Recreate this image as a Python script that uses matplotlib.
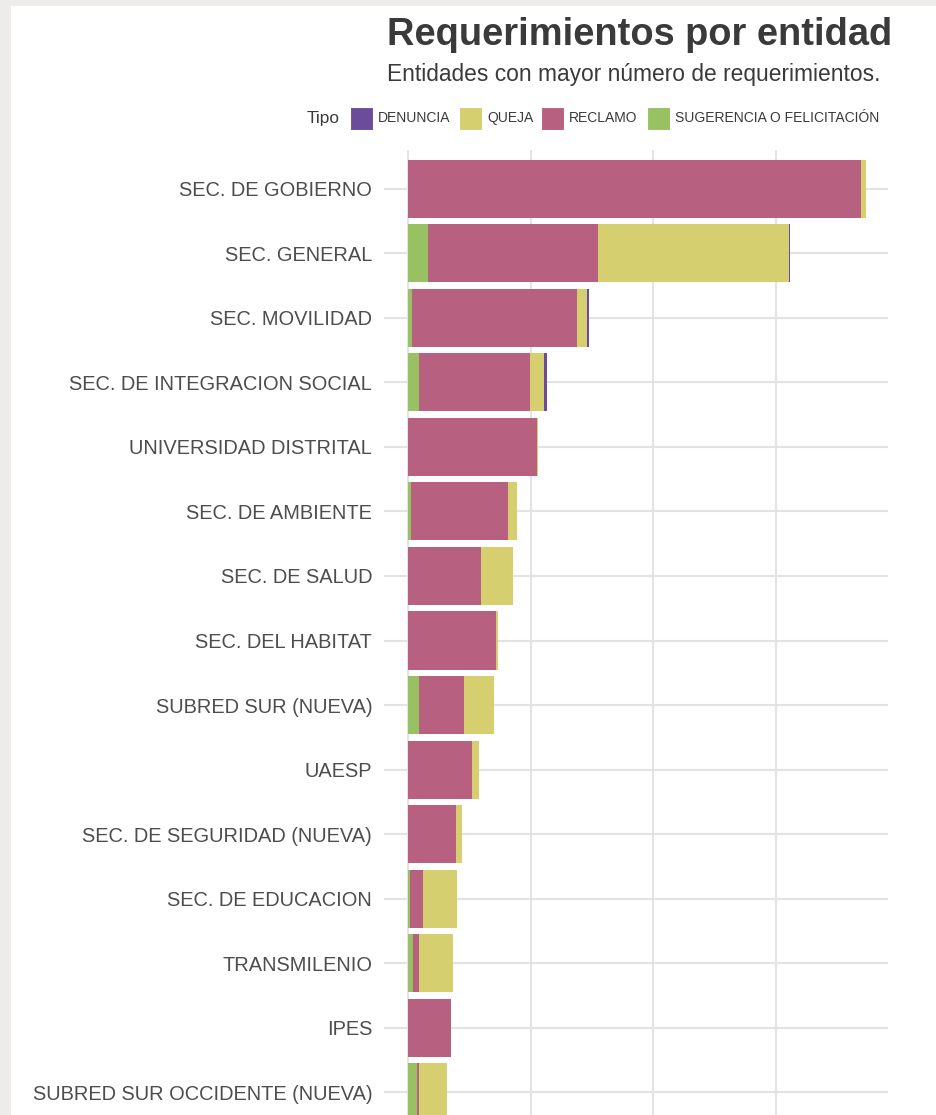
import matplotlib
matplotlib.use("Agg")
import matplotlib.pyplot as plt
from matplotlib.patches import Rectangle
import numpy as np

plt.rcParams['font.family'] = ['Liberation Sans', 'DejaVu Sans']

entidades = ["SEC. DE GOBIERNO", "SEC. GENERAL", "SEC. MOVILIDAD",
             "SEC. DE INTEGRACION SOCIAL", "UNIVERSIDAD DISTRITAL",
             "SEC. DE AMBIENTE", "SEC. DE SALUD", "SEC. DEL HABITAT",
             "SUBRED SUR (NUEVA)", "UAESP", "SEC. DE SEGURIDAD (NUEVA)",
             "SEC. DE EDUCACION", "TRANSMILENIO", "IPES",
             "SUBRED SUR OCCIDENTE (NUEVA)"]
sugerencia = [0, 160, 33, 90, 0, 22, 0, 0, 90, 0, 0, 19, 38, 0, 71]
reclamo = [3692, 1392, 1345, 905, 1049, 796, 592, 717, 364, 524, 389, 106, 54, 350, 19]
queja = [37, 1549, 81, 117, 13, 68, 261, 16, 245, 52, 49, 277, 275, 0, 226]
denuncia = [0, 15, 16, 19, 0, 0, 0, 0, 0, 0, 0, 0, 0, 0, 0]

tipos = ["DENUNCIA", "QUEJA", "RECLAMO", "SUGERENCIA O FELICITACIÓN"]
colores = {"DENUNCIA": "#6b4c9a", "QUEJA": "#d5cf70",
           "RECLAMO": "#b86080", "SUGERENCIA O FELICITACIÓN": "#98c164"}

W, H = 936, 1115
fig = plt.figure(figsize=(W / 100, H / 100), dpi=100)
fig.patch.set_facecolor("#eeecea")
fig.add_artist(Rectangle((11 / W, 0), 1, 1 - 6 / H, transform=fig.transFigure,
                         facecolor="white", edgecolor="none", zorder=0))

left, right = 384 / W, 888 / W
top_px, bot_px = 150, 1131
ax = fig.add_axes([left, 1 - bot_px / H, right - left, (bot_px - top_px) / H])
ax.set_facecolor("none")

y = np.arange(len(entidades))
stack_order = [("SUGERENCIA O FELICITACIÓN", sugerencia), ("RECLAMO", reclamo),
               ("QUEJA", queja), ("DENUNCIA", denuncia)]
base = np.zeros(len(entidades))
for name, vals in stack_order:
    v = np.array(vals, dtype=float)
    ax.barh(y, v, left=base, height=0.9, color=colores[name], edgecolor="none",
            zorder=3)
    base += v

ax.set_ylim(len(entidades) - 0.4, -0.6)
ax.set_xlim(-196, 3912)
ax.set_xticks([0, 1000, 2000, 3000])
ax.set_xticklabels([])
ax.set_yticks(y)
ax.set_yticklabels(entidades, fontsize=14.4, color="#4d4d4d")
ax.tick_params(axis="both", length=0, pad=8.5)
for s in ax.spines.values():
    s.set_visible(False)
ax.grid(True, color="#e3e3e3", linewidth=1.5, zorder=0)
ax.set_axisbelow(True)

fig.text(387 / W, 1 - 45 / H, "Requerimientos por entidad", fontsize=27.4,
         fontweight="bold", color="#3a3a3a", va="baseline", ha="left")
fig.text(387 / W, 1 - 81 / H, "Entidades con mayor número de requerimientos.",
         fontsize=16.4, color="#3a3a3a", va="baseline", ha="left")

# legend
ly = 118
fig.text(307 / W, 1 - ly / H, "Tipo", fontsize=12.4, color="#3a3a3a",
         va="center", ha="left")
key_x = [350, 459, 541, 647]
for kx, t in zip(key_x, tipos):
    fig.add_artist(Rectangle((kx / W, 1 - (ly + 11.5) / H), 23 / W, 23 / H,
                             transform=fig.transFigure, facecolor=colores[t],
                             edgecolor="white", linewidth=0.8))
    fig.text((kx + 28) / W, 1 - ly / H, t, fontsize=10, color="#3a3a3a",
             va="center", ha="left")

fig.savefig("out.png", dpi=100)
